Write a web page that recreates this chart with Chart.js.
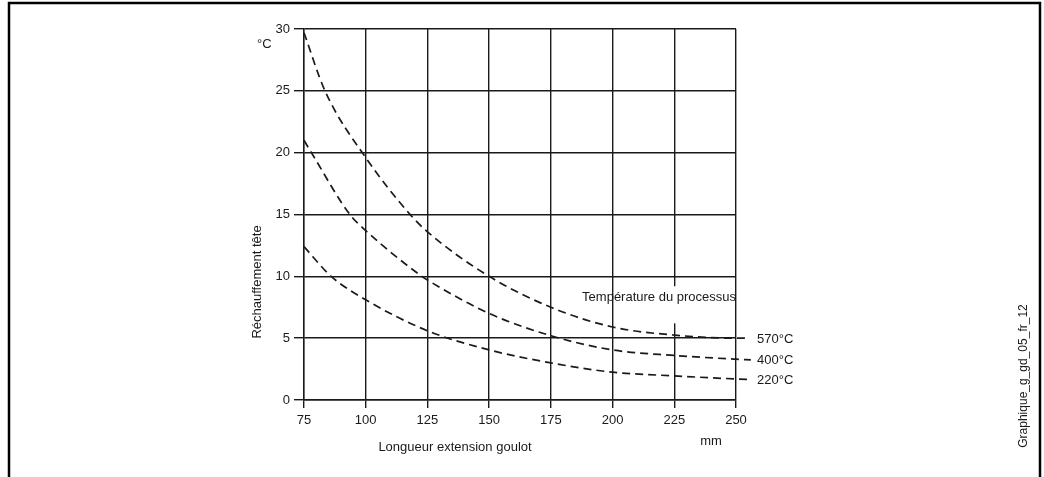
<!DOCTYPE html>
<html lang="fr">
<head>
<meta charset="UTF-8">
<title>Réchauffement tête</title>
<style>
  body { margin: 0; padding: 0; background: #fff; }
  .wrap { width: 1044px; height: 477px; position: relative; }
</style>
<script src="https://cdn.jsdelivr.net/npm/chart.js"></script>
</head>
<body>
<div class="wrap"><canvas id="chart"></canvas></div>
<script>
// values
const xTicks = [75, 100, 125, 150, 175, 200, 225, 250];
const yTicks = [0, 5, 10, 15, 20, 25, 30];

const x570 = [75, 83.5, 100, 118, 125, 150, 175, 200, 225, 250, 255];
const y570 = [29.7, 25, 19.6, 15, 13.6, 10.0, 7.5, 5.9, 5.25, 5.0, 5.0];

const x400 = [75, 78, 93.6, 100, 122.7, 125, 150, 175, 200, 225, 250, 256];
const y400 = [21.0, 20, 15, 13.7, 10, 9.7, 7.0, 5.2, 4.05, 3.6, 3.3, 3.25];

const x220 = [75, 86, 100, 125, 150, 175, 200, 225, 250, 256];
const y220 = [12.4, 10, 8.1, 5.6, 4.05, 3.0, 2.25, 1.95, 1.7, 1.65];

const seriesLabels = ['570°C', '400°C', '220°C'];

const FONT = '"Liberation Sans", Arial, Helvetica, sans-serif';
const INK = '#1a1a1a';

function pts(xs, ys) {
  return xs.map((x, i) => ({ x: x, y: ys[i] }));
}

function curve(label, data) {
  return {
    label: label,
    data: data,
    borderColor: INK,
    borderWidth: 1.7,
    borderDash: [8, 5],
    pointRadius: 0,
    fill: false,
    cubicInterpolationMode: 'monotone',
    clip: false
  };
}

// frame, labels and notes around the plot
const decorations = {
  id: 'decorations',
  afterDatasetsDraw(chart) {
    const ctx = chart.ctx;
    const xs = chart.scales.x, ys = chart.scales.y;
    // break in the 225 grid line behind the note
    ctx.save();
    ctx.fillStyle = '#fff';
    const gx = xs.getPixelForValue(225);
    const top = ys.getPixelForValue(9.2), bottom = ys.getPixelForValue(6.2);
    ctx.fillRect(gx - 2, top, 4, bottom - top);
    ctx.restore();
  },
  afterDraw(chart) {
    const ctx = chart.ctx;
    const area = chart.chartArea;
    const ys = chart.scales.y;
    ctx.save();

    // outer frame (open at the bottom)
    ctx.strokeStyle = '#000';
    ctx.lineWidth = 2.5;
    ctx.beginPath();
    ctx.moveTo(9, 477);
    ctx.lineTo(9, 3);
    ctx.lineTo(1040, 3);
    ctx.lineTo(1040, 477);
    ctx.stroke();

    ctx.fillStyle = INK;
    ctx.font = '13px ' + FONT;
    ctx.textBaseline = 'middle';

    // unit on y
    ctx.textAlign = 'left';
    ctx.fillText('°C', 257, 44);

    // y title
    ctx.save();
    ctx.translate(257, 282);
    ctx.rotate(-Math.PI / 2);
    ctx.textAlign = 'center';
    ctx.fillText('Réchauffement tête', 0, 0);
    ctx.restore();

    // x title and unit
    ctx.textAlign = 'center';
    ctx.fillText('Longueur extension goulot', 455, 447);
    ctx.fillText('mm', 711, 441);

    // note
    ctx.textAlign = 'right';
    ctx.fillText('Température du processus', area.right, 297);

    // series labels at the end of each curve
    ctx.textAlign = 'left';
    chart.data.datasets.forEach((ds, i) => {
      const last = ds.data[ds.data.length - 1];
      ctx.fillText(seriesLabels[i], area.right + 21, ys.getPixelForValue(last.y) + 1);
    });

    // figure id
    ctx.save();
    ctx.font = '12px ' + FONT;
    ctx.translate(1024, 376);
    ctx.rotate(-Math.PI / 2);
    ctx.textAlign = 'center';
    ctx.fillText('Graphique_g_gd_05_fr_12', 0, 0);
    ctx.restore();

    ctx.restore();
  }
};

function fixXRange(scale) {
  scale.min = xTicks[0];
  scale.max = xTicks[xTicks.length - 1];
}

new Chart(document.getElementById('chart'), {
  type: 'line',
  data: {
    datasets: [
      curve(seriesLabels[0], pts(x570, y570)),
      curve(seriesLabels[1], pts(x400, y400)),
      curve(seriesLabels[2], pts(x220, y220))
    ]
  },
  options: {
    responsive: true,
    maintainAspectRatio: false,
    animation: false,
    layout: { padding: { left: 240, right: 308, top: 29, bottom: 47 } },
    plugins: {
      legend: { display: false },
      tooltip: { enabled: false }
    },
    scales: {
      x: {
        type: 'linear',
        bounds: 'data',
        // range set here (not min/max) so the curve tails past 250 are still drawn
        afterDataLimits: fixXRange,
        afterBuildTicks(scale) {
          fixXRange(scale);
          scale.ticks = xTicks.map(v => ({ value: v }));
        },
        afterFit(scale) { scale.height = 30; },
        grid: { color: INK, lineWidth: 1.4, tickLength: 8, tickColor: INK },
        border: { color: INK, width: 1.4 },
        ticks: { color: INK, font: { family: FONT, size: 13 }, padding: 5, maxRotation: 0 }
      },
      y: {
        type: 'linear',
        min: yTicks[0],
        max: yTicks[yTicks.length - 1],
        afterBuildTicks(scale) { scale.ticks = yTicks.map(v => ({ value: v })); },
        afterFit(scale) { scale.width = 64; },
        grid: { color: INK, lineWidth: 1.4, tickLength: 10, tickColor: INK },
        border: { color: INK, width: 1.4 },
        ticks: { color: INK, font: { family: FONT, size: 13 }, padding: 4 }
      }
    }
  },
  plugins: [decorations]
});
</script>
</body>
</html>
